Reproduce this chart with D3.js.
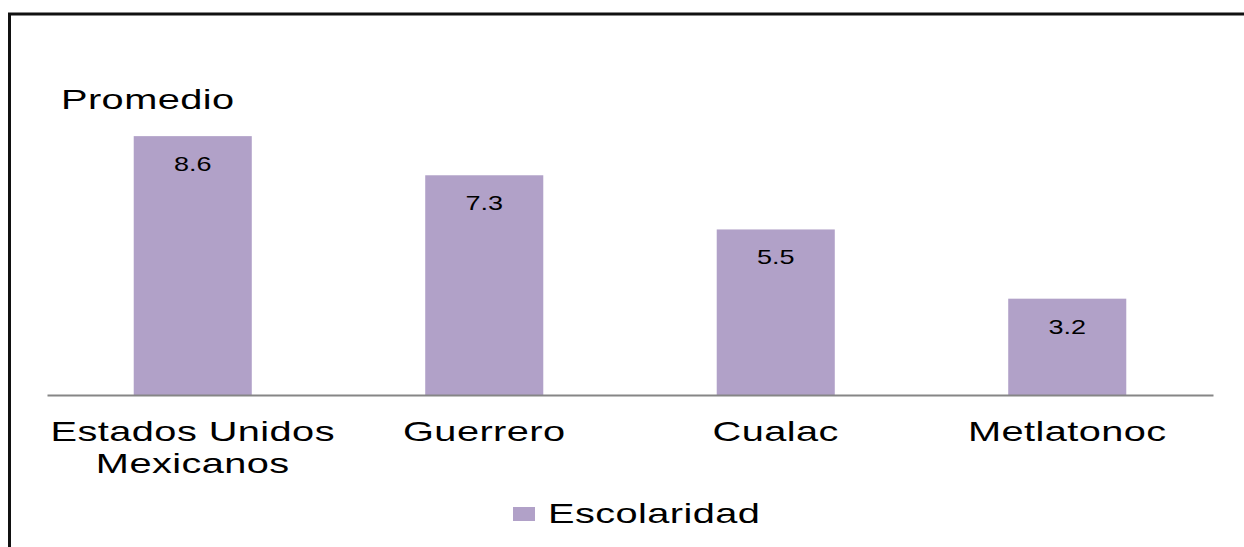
<!DOCTYPE html>
<html>
<head>
<meta charset="utf-8">
<script src="https://cdn.jsdelivr.net/npm/d3@7"></script>
<style>
  html, body { margin: 0; padding: 0; background: #fff; }
  svg { display: block; }
  text { font-family: "Liberation Sans", Arial, sans-serif; fill: #000; }
</style>
</head>
<body>
<div id="chart"></div>
<script>
const categories = [["Estados Unidos", "Mexicanos"], ["Guerrero"], ["Cualac"], ["Metlatonoc"]];
const values = [8.6, 7.3, 5.5, 3.2];
const valueLabels = ["8.6", "7.3", "5.5", "3.2"];
const seriesName = "Escolaridad";
const axisTitle = "Promedio";
const yDomain = [0, 10];

const W = 1244, H = 547;
const barColor = "#b1a1c8";
const sxBig = 1.42, sxNum = 1.35;

const svg = d3.select("#chart").append("svg").attr("width", W).attr("height", H);

// frame (only top and left visible)
svg.append("path")
  .attr("d", "M9.5,547 L9.5,14 L1244,14")
  .attr("fill", "none").attr("stroke", "#111").attr("stroke-width", 3);

const x = d3.scaleBand()
  .domain(d3.range(categories.length))
  .range([47, 1213])
  .paddingInner(0.595).paddingOuter(0.2975);
const y = d3.scaleLinear().domain(yDomain).range([395, 94]);

// bars
svg.selectAll("rect.bar").data(values).enter().append("rect")
  .attr("class", "bar")
  .attr("x", (d, i) => x(i))
  .attr("width", x.bandwidth())
  .attr("y", d => y(d))
  .attr("height", d => y(0) - y(d))
  .attr("fill", barColor);

// x axis line
const xAxis = d3.axisBottom(x).tickSize(0).tickFormat("");
const gx = svg.append("g").attr("transform", `translate(0,${y(0)})`).call(xAxis);
gx.select(".domain").attr("stroke", "#868686").attr("stroke-width", 2);

// value labels
svg.selectAll("g.vlab").data(values).enter().append("g")
  .attr("class", "vlab")
  .attr("transform", (d, i) => `translate(${x(i) + x.bandwidth() / 2},${y(d) + 35}) scale(${sxNum},1)`)
  .append("text")
  .attr("text-anchor", "middle")
  .attr("font-size", 20)
  .text((d, i) => valueLabels[i]);

// category labels
categories.forEach((lines, i) => {
  lines.forEach((ln, j) => {
    svg.append("g")
      .attr("transform", `translate(${x(i) + x.bandwidth() / 2},${441 + j * 32}) scale(${sxBig},1)`)
      .append("text")
      .attr("text-anchor", "middle")
      .attr("font-size", 28)
      .attr("letter-spacing", 0.3)
      .text(ln);
  });
});

// axis title
svg.append("g")
  .attr("transform", `translate(61,109) scale(${sxBig},1)`)
  .append("text").attr("font-size", 28).attr("letter-spacing", 0.3).text(axisTitle);

// legend
svg.append("rect").attr("x", 513).attr("y", 507).attr("width", 22).attr("height", 14).attr("fill", barColor);
svg.append("g")
  .attr("transform", `translate(548,523) scale(${sxBig},1)`)
  .append("text").attr("font-size", 28).attr("letter-spacing", 0.3).text(seriesName);
</script>
</body>
</html>
